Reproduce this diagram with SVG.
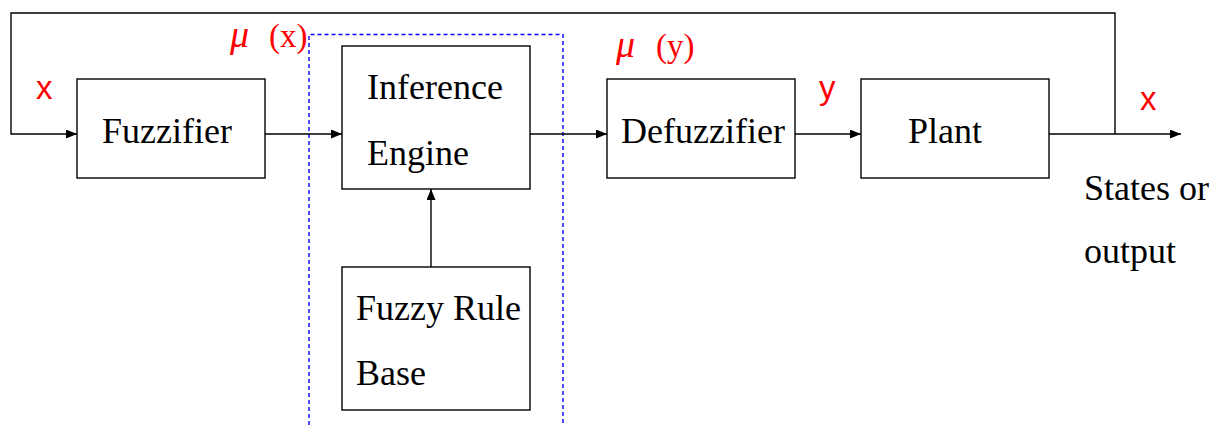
<svg xmlns="http://www.w3.org/2000/svg" width="1221" height="425" viewBox="0 0 1221 425">
<defs>
<marker id="arr" viewBox="0 0 11 9" refX="11" refY="4.5" markerWidth="11" markerHeight="9" markerUnits="userSpaceOnUse" orient="auto">
<path d="M0,0 L11,4.5 L0,9 z" fill="#000"/>
</marker>
<style>
.box{fill:#fff;stroke:#000;stroke-width:1.4}
.lbl{font-family:"Liberation Serif","Times New Roman",serif;font-size:36px;fill:#000}
.red{font-family:"Liberation Sans",Arial,sans-serif;font-size:33px;fill:#f00}
.mu{font-family:"Liberation Serif","Times New Roman",serif;font-size:33px;fill:#f00}
.ln{fill:none;stroke:#000;stroke-width:1.4}
</style>
</defs>
<rect width="1221" height="425" fill="#fff"/>
<path d="M309,425 L309,34.5 L563,34.5 L563,425" fill="none" stroke="#0000ff" stroke-width="1.4" stroke-dasharray="4,3"/>
<g id="connectors">
<path class="ln" d="M1115,134 L1115,13 L11,13 L11,134 L77,134" marker-end="url(#arr)"/>
<path class="ln" d="M265,134 L342,134" marker-end="url(#arr)"/>
<path class="ln" d="M530,134 L607,134" marker-end="url(#arr)"/>
<path class="ln" d="M795,134 L861,134" marker-end="url(#arr)"/>
<path class="ln" d="M1049,134 L1181,134" marker-end="url(#arr)"/>
<path class="ln" d="M431,267 L431,189" marker-end="url(#arr)"/>
</g>
<g id="fuzzifier">
<rect class="box" x="77" y="79" width="188" height="99"/>
<text class="lbl" x="102" y="143">Fuzzifier</text>
</g>
<g id="inference">
<rect class="box" x="342" y="46" width="188" height="143"/>
<text class="lbl" x="367" y="99">Inference</text>
<text class="lbl" x="367" y="165">Engine</text>
</g>
<g id="rulebase">
<rect class="box" x="342" y="267" width="188" height="143"/>
<text class="lbl" x="356" y="320">Fuzzy Rule</text>
<text class="lbl" x="356" y="385">Base</text>
</g>
<g id="defuzzifier">
<rect class="box" x="607" y="79" width="188" height="99"/>
<text class="lbl" x="621" y="143">Defuzzifier</text>
</g>
<g id="plant">
<rect class="box" x="861" y="79" width="188" height="99"/>
<text class="lbl" x="908" y="143">Plant</text>
</g>
<g id="labels">
<text class="red" x="36" y="99">x</text>
<text class="red" x="819" y="99">y</text>
<text class="red" x="1140" y="110">x</text>
<text class="mu" x="230" y="47"><tspan font-style="italic" font-size="38">μ</tspan><tspan x="269">(x)</tspan></text>
<text class="mu" x="616" y="57"><tspan font-style="italic" font-size="38">μ</tspan><tspan x="656">(y)</tspan></text>
<text class="lbl" x="1084" y="200">States or</text>
<text class="lbl" x="1084" y="263">output</text>
</g>
</svg>
